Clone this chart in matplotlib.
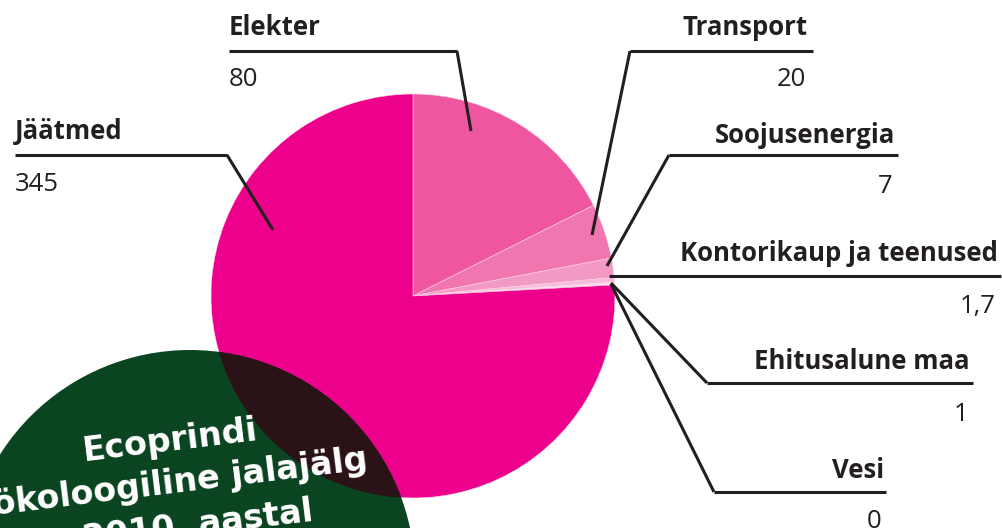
import matplotlib
matplotlib.use("Agg")
import matplotlib.pyplot as plt
from matplotlib.patches import Circle

plt.rcParams['font.family'] = ['Open Sans', 'DejaVu Sans']

# ---- data (clockwise from 12 o'clock) ----
categories = ["Elekter", "Transport", "Soojusenergia", "Kontorikaup ja teenused",
              "Ehitusalune maa", "Vesi", "Jäätmed"]
values = [80, 20, 7, 1.7, 1, 0, 345]
value_labels = ["80", "20", "7", "1,7", "1", "0", "345"]
colors = ["#EE579F", "#F176AF", "#F39AC4", "#F6BCD9", "#FBE0EE", "#FDEFF6", "#EC008C"]

title_lines = ["Ecoprindi", "ökoloogiline jalajälg", "2010. aastal"]

W, H = 1003, 528
fig = plt.figure(figsize=(W / 100, H / 100), dpi=100)
ax = fig.add_axes([0, 0, 1, 1])

def Y(y):
    # convert pixel row (from top) to axes y
    return H - y

# ---- pie ----
cx, cy, r = 413, Y(296), 202
wedges, _ = ax.pie(values, colors=colors, startangle=90, counterclock=False,
                   center=(cx, cy), radius=r, frame=True,
                   wedgeprops=dict(linewidth=0.4, edgecolor='#fbd3e6'))
ax.set_xlim(0, W)
ax.set_ylim(0, H)
ax.set_aspect('equal')
ax.axis('off')

# ---- green badge ----
green = Circle((190, Y(575)), 225, facecolor='#0A4421', edgecolor='none', zorder=3)
ax.add_patch(green)
overlap = Circle((190, Y(575)), 225, facecolor='#2A1216', edgecolor='none', zorder=4)
ax.add_patch(overlap)
overlap.set_clip_path(wedges[-1])

badge_pos = [(170, 441), (180, 483), (198, 525)]
for txt, (tx, ty) in zip(title_lines, badge_pos):
    ax.text(tx, Y(ty), txt, color='white', fontsize=24, fontweight='bold',
            family=['DejaVu Sans'], rotation=7,
            rotation_mode='anchor', ha='center', va='center', zorder=5)

# ---- leader labels ----
ink = '#231F20'
# (name x, name baseline, align, underline y, underline x0, x1, leader path, value baseline)
label_layout = [
    (229, 35, 'left', 51, 229, 457, [(457, 51), (471, 131)], 86),
    (808, 35, 'right', 51, 630, 813, [(630, 51), (592, 235)], 86),
    (895, 143, 'right', 155, 669, 898, [(669, 155), (607, 266)], 193),
    (998, 261, 'right', 276, 609, 1001, [(609, 276)], 313),
    (970, 369, 'right', 383, 707, 973, [(707, 383), (611, 283)], 421),
    (884, 478, 'right', 492, 714, 886, [(714, 492), (611, 284)], 528),
    (15, 139, 'left', 155, 15, 227, [(227, 155), (273, 230)], 191),
]

for name, val, lay in zip(categories, value_labels, label_layout):
    tx, tb, ha, uy, x0, x1, path, vb = lay
    ax.text(tx, Y(tb), name, fontsize=18.5, fontweight='bold', color=ink,
            ha=ha, va='baseline', zorder=6)
    ax.text(tx - (2 if ha == 'right' else 0), Y(vb), val, fontsize=18.5,
            color=ink, ha=ha, va='baseline', zorder=6)
    ax.plot([x0, x1], [Y(uy), Y(uy)], color=ink, lw=2.2, solid_capstyle='butt', zorder=6)
    if len(path) > 1:
        ax.plot([p[0] for p in path], [Y(p[1]) for p in path], color=ink, lw=2.2,
                solid_capstyle='butt', zorder=6)

fig.savefig("out.png", dpi=100)
